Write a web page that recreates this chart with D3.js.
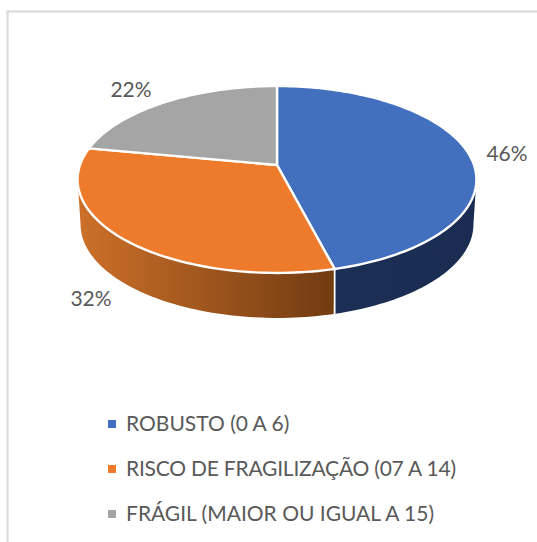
<!DOCTYPE html>
<html>
<head>
<meta charset="utf-8">
<script src="https://cdn.jsdelivr.net/npm/d3@7"></script>
<style>
  html, body { margin: 0; padding: 0; background: #fff; }
  svg { display: block; }
  text { font-family: Lato, "Noto Sans", sans-serif; fill: #595959; }
</style>
</head>
<body>
<svg id="chart" width="537" height="542"></svg>
<script>
const categories = ['ROBUSTO (0 A 6)', 'RISCO DE FRAGILIZAÇÃO (07 A 14)', 'FRÁGIL (MAIOR OU IGUAL A 15)'];
const percentages = [46, 32, 22];
const topColors = ['#4270BF', '#EE7B2B', '#A5A5A5'];
const wallStops = [['#1D3056', '#1A2C52'], ['#CC7029', '#713B11'], ['#777', '#777']];

const svg = d3.select('#chart');

// frame (only top and left are visible in the crop)
svg.append('path')
  .attr('d', 'M7.5,542V11.5H537')
  .attr('fill', 'none')
  .attr('stroke', '#dedede')
  .attr('stroke-width', 2.4);

// perspective of the tilted disc: tip of the slices is not the middle of the ellipse
const cx = 277, cy = 165, rx = 197, ry = 91.2, tilt = -0.155, depth = 45;

function project(angle, base) {
  const u = Math.sin(angle), v = -Math.cos(angle);
  const w = 1 + tilt * v;
  const shrink = base ? 0.985 : 1;
  return [cx + shrink * rx * u / w, cy + ry * v / w + (base ? depth : 0)];
}

function arcPoints(a0, a1, base) {
  const n = Math.max(2, Math.ceil(Math.abs(a1 - a0) * 40));
  return d3.range(n + 1).map(i => project(a0 + (a1 - a0) * i / n, base));
}

const line = d3.line();
const slices = d3.pie().sort(null).value(d => d)(percentages);

// widest points of the ellipse, where the wall starts and stops
const rightEdge = Math.acos(tilt);
const leftEdge = 2 * Math.PI - rightEdge;

const defs = svg.append('defs');
wallStops.forEach((stops, i) => {
  const grad = defs.append('linearGradient')
    .attr('id', 'wall' + i)
    .attr('gradientUnits', 'userSpaceOnUse')
    .attr('x1', i === 1 ? cx - rx : cx)
    .attr('x2', i === 1 ? project(slices[0].endAngle)[0] : cx + rx)
    .attr('y1', 0).attr('y2', 0);
  grad.append('stop').attr('offset', 0).attr('stop-color', stops[0]);
  grad.append('stop').attr('offset', 1).attr('stop-color', stops[1]);
});

// walls
slices.forEach((s, i) => {
  const a0 = Math.max(s.startAngle, rightEdge);
  const a1 = Math.min(s.endAngle, leftEdge);
  if (a1 <= a0) return;
  const pts = arcPoints(a0, a1, false).concat(arcPoints(a1, a0, true));
  svg.append('path')
    .attr('d', line(pts) + 'Z')
    .attr('fill', `url(#wall${i})`);
});

// divider on the wall between the two front slices
const split = slices[0].endAngle;
svg.append('path')
  .attr('d', line([project(split), [project(split)[0], project(split, true)[1]]]))
  .attr('stroke', '#fff')
  .attr('stroke-width', 1.8);

// top of the disc
slices.forEach((s, i) => {
  const pts = [[cx, cy]].concat(arcPoints(s.startAngle, s.endAngle, false));
  svg.append('path')
    .attr('d', line(pts) + 'Z')
    .attr('fill', topColors[i])
    .attr('stroke', '#fff')
    .attr('stroke-width', 2.4)
    .attr('stroke-linejoin', 'round');
});

// value labels
const labelSpots = [[507, 161], [91, 306], [131, 97]];
percentages.forEach((p, i) => {
  svg.append('text')
    .attr('x', labelSpots[i][0])
    .attr('y', labelSpots[i][1])
    .attr('text-anchor', 'middle')
    .attr('font-size', 21)
    .text(p + '%');
});

// legend
const legendY = d3.scalePoint().domain(categories).range([431, 521]);
categories.forEach((c, i) => {
  const y = legendY(c);
  svg.append('rect')
    .attr('x', 108).attr('y', y - 11)
    .attr('width', 8).attr('height', 8)
    .attr('fill', topColors[i]);
  const label = svg.append('text')
    .attr('x', 126).attr('y', y)
    .attr('font-size', 21)
    .text(c);
  // Lato runs a bit wide on the long accented row
  if (i === 1) label.attr('textLength', 330).attr('lengthAdjust', 'spacing');
});
</script>
</body>
</html>
